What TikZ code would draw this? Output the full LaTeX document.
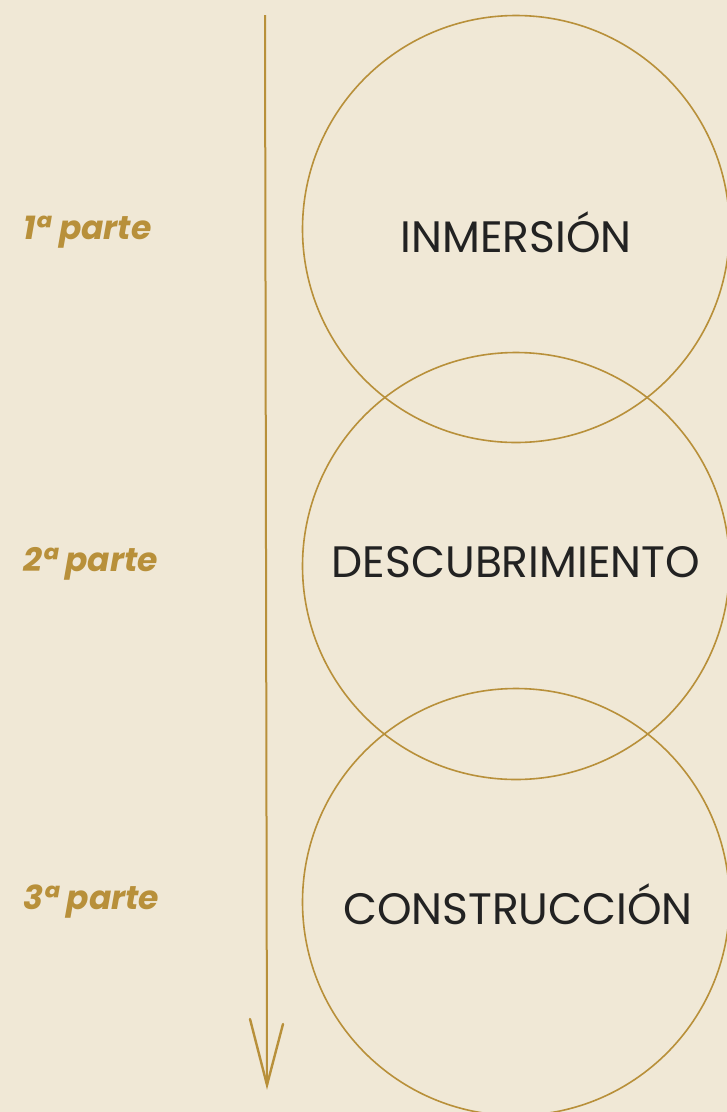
\documentclass[tikz,border=0pt]{standalone}
\usepackage{fontspec}
\setmainfont{Poppins}
\definecolor{bg}{HTML}{F0E8D6}
\definecolor{gold}{HTML}{B8903A}
\definecolor{ink}{HTML}{222222}
\begin{document}
\begin{tikzpicture}[x=1pt,y=-1pt,
  ring/.style={draw=gold,line width=1.6pt},
  stage/.style={text=ink,font=\fontsize{44}{50}\selectfont,anchor=center},
  part/.style={text=gold,font=\fontsize{33}{38}\selectfont\bfseries\itshape,anchor=west},
  arm/.style={draw=gold,line width=2.4pt,line cap=round}]
\fill[bg] (0,0) rectangle (727,1112);
\useasboundingbox (0,0) rectangle (727,1112);
\begin{scope}
\clip (0,0) rectangle (727,1112);
\node[ring,circle,minimum size=427pt,inner sep=0pt] (c1) at (516,229) {};
\node[ring,circle,minimum size=427pt,inner sep=0pt] (c2) at (516,566) {};
\node[ring,circle,minimum size=427pt,inner sep=0pt] (c3) at (516,902) {};
\end{scope}
\node[stage] (t1) at (516,232) {INMERSIÓN};
\node[stage] (t2) at (516,562) {DESCUBRIMIENTO};
\node[stage] (t3) at (518,904) {CONSTRUCCIÓN};
\node[part] (p1) at (20,232) {1ª parte};
\node[part] (p2) at (20,564) {2ª parte};
\node[part] (p3) at (20,902) {3ª parte};
\coordinate (top) at (265,15);
\coordinate (tip) at (267,1085);
\coordinate (la) at (250,1019);
\coordinate (ra) at (283,1024);
\draw[draw=gold,line width=2pt] (top) -- (tip);
\draw[arm] (la) -- (tip) -- (ra);
\end{tikzpicture}
\end{document}
